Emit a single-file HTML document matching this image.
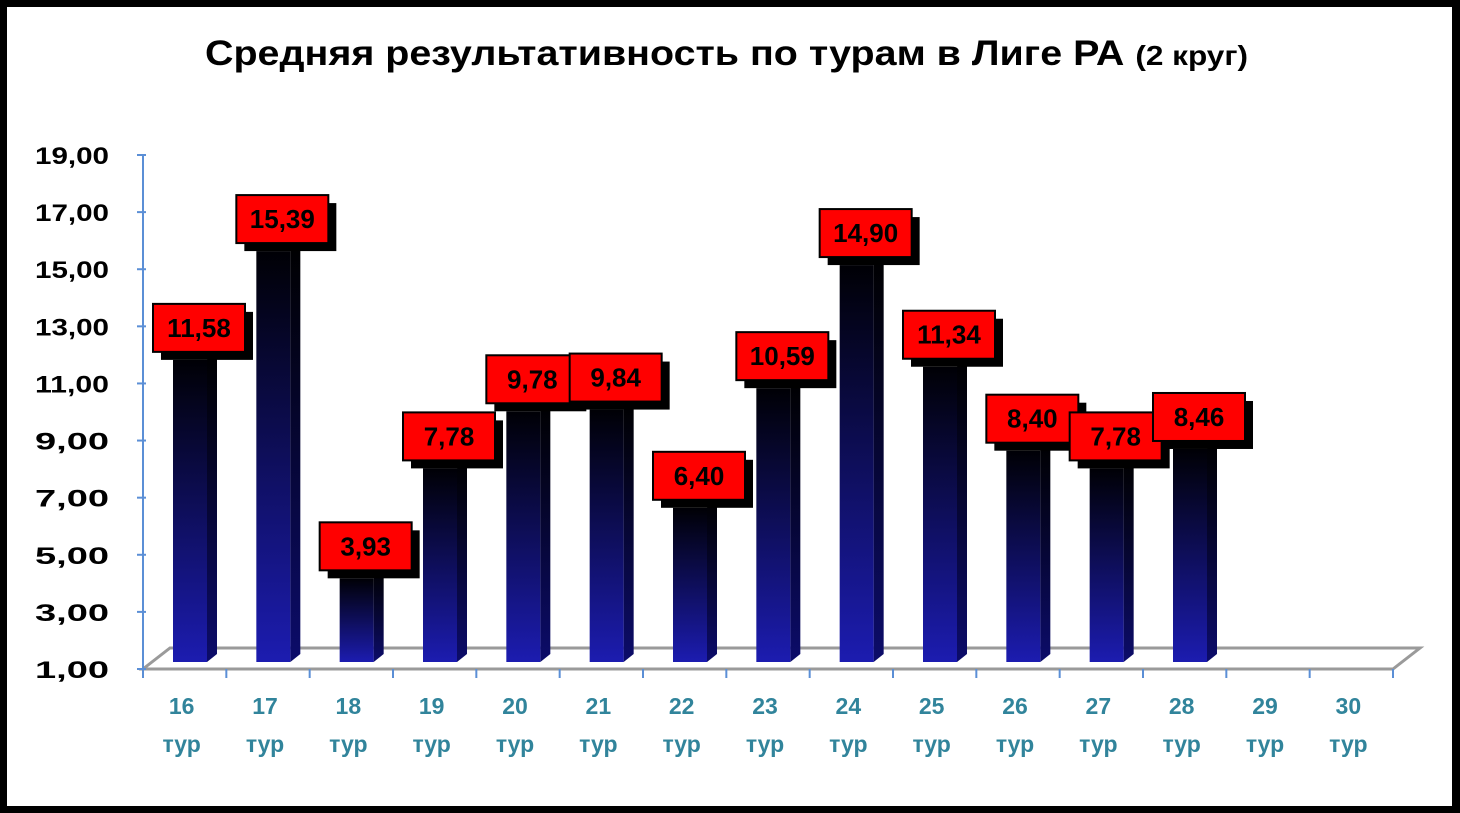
<!DOCTYPE html>
<html><head><meta charset="utf-8"><style>
html,body{margin:0;padding:0;background:#000}
#wrap{width:1460px;height:813px;position:relative;background:#000}
svg{position:absolute;left:0;top:0}
text{font-family:"Liberation Sans","DejaVu Sans",sans-serif;font-weight:bold}
</style></head><body>
<div id="wrap">
<svg id="chart" width="1460" height="813">
<defs>
<linearGradient id="gf" x1="0" y1="0" x2="0" y2="1"><stop offset="0" stop-color="#000005"/><stop offset="1" stop-color="#1c1cb0"/></linearGradient>
<linearGradient id="gs" x1="0" y1="0" x2="0" y2="1"><stop offset="0" stop-color="#000000"/><stop offset="1" stop-color="#0c0c6a"/></linearGradient>
</defs>
<rect x="7" y="7" width="1445" height="799" fill="#fff"/>
<text x="205" y="65" font-size="35" textLength="1043" lengthAdjust="spacingAndGlyphs" fill="#000">Средняя результативность по турам в Лиге РА <tspan font-size="28">(2 круг)</tspan></text>
</svg>
</div>
<script>
const categories=["16","17","18","19","20","21","22","23","24","25","26","27","28","29","30"];
const values=[11.58,15.39,3.93,7.78,9.78,9.84,6.40,10.59,14.90,11.34,8.40,7.78,8.46,null,null];
const yTicks=[1,3,5,7,9,11,13,15,17,19];
const NS="http://www.w3.org/2000/svg";
const svg=document.getElementById('chart');
const x0=143,x1=1393,yBase=669,yTop=155,vMin=1,vMax=19,dx=27,dy=21;
const cw=(x1-x0)/categories.length;
function yS(v){return yBase-(v-vMin)/(vMax-vMin)*(yBase-yTop);}
function xS(i){return x0+cw*(i+0.5);}
function mk(tag,attrs,parent){const e=document.createElementNS(NS,tag);for(const k in attrs)e.setAttribute(k,attrs[k]);(parent||svg).appendChild(e);return e;}
let fl=mk('polygon',{points:`${x0},${yBase} ${x1},${yBase} ${x1+dx},${yBase-dy} ${x0+dx},${yBase-dy}`,fill:'#fff',stroke:'#9a9a9a','stroke-width':3});


let ya=mk('line',{x1:x0,y1:yTop,x2:x0,y2:yBase+8,stroke:'#5b8fd6','stroke-width':2});


yTicks.forEach(t=>{
  const y=yS(t);
  let tk=mk('line',{x1:x0-6,y1:y,x2:x0+3,y2:y,stroke:'#5b8fd6','stroke-width':2});
  
  
  let tl=mk('text',{x:35,y:y+9,'font-size':24,textLength:74,lengthAdjust:'spacingAndGlyphs',fill:'#000'});
  tl.textContent=t.toFixed(2).replace('.',',');
  
  
});
for(let i=0;i<=categories.length;i++){
  const x=x0+cw*i;
  let tk=mk('line',{x1:x,y1:yBase,x2:x,y2:yBase+9,stroke:'#5b8fd6','stroke-width':2});
  
  
}
categories.forEach((c,i)=>{
  const x=xS(i)-3;
  let t=mk('text',{x:x,y:714,'font-size':23,'text-anchor':'middle',fill:'#31849b'});
  t.textContent=c;
  
  
  let t2=mk('text',{x:x,y:752,'font-size':23,'text-anchor':'middle',fill:'#31849b'});
  t2.textContent='тур';
  
  
});
const bw=34,sd=10,off=7;
values.forEach((v,i)=>{
  if(v==null)return;
  const g=mk('g',{});
  
  
  const xl=xS(i)-cw/2+30, yb=yBase-off, yt=yS(v)-off;
  mk('polygon',{points:`${xl+bw},${yb} ${xl+bw+sd},${yb-8} ${xl+bw+sd},${yt-8} ${xl+bw},${yt}`,fill:'url(#gs)'},g);
  mk('rect',{x:xl,y:yt,width:bw,height:yb-yt,fill:'url(#gf)'},g);
  const cx=xl+bw/2+9, cy=yt-32, w=92, h=48;
  const lg=mk('g',{});
  
  
  mk('rect',{x:cx-w/2+8,y:cy-h/2+8,width:w,height:h,fill:'#000'},lg);
  mk('rect',{x:cx-w/2,y:cy-h/2,width:w,height:h,fill:'#ff0000',stroke:'#000','stroke-width':2},lg);
  const tx=mk('text',{x:cx,y:cy+9,'font-size':26,'text-anchor':'middle',fill:'#000'},lg);
  tx.textContent=v.toFixed(2).replace('.',',');
});
</script>
</body></html>
